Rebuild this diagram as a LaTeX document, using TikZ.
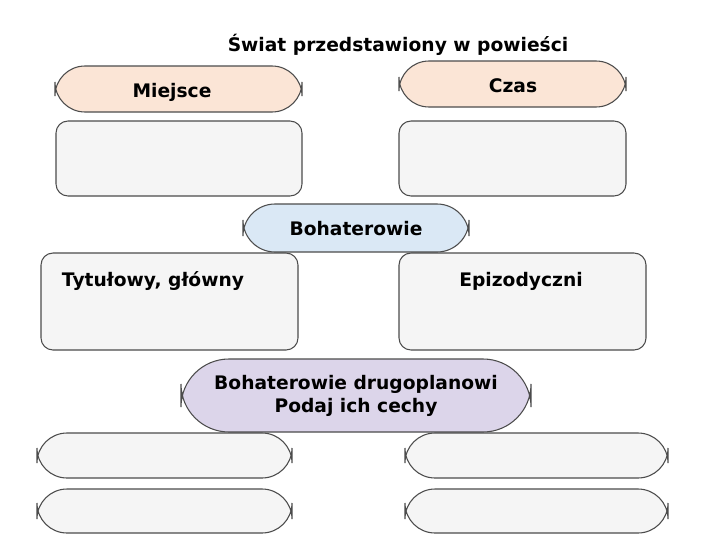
\documentclass[tikz,border=0pt]{standalone}
\usepackage{fontspec}
\setmainfont{DejaVu Sans}
\begin{document}
\begin{tikzpicture}[x=0.75pt,y=-0.75pt,
  pill/.style={draw=black!70,line width=0.8pt,rounded corners=22.5pt},
  box/.style={draw=black!70,line width=0.8pt,rounded corners=9pt,fill=black!4},
  lbl/.style={font=\bfseries\fontsize{14}{17}\selectfont,align=center}]
\useasboundingbox (0,0) rectangle (724,543);
\fill[white] (0,0) rectangle (724,543);
\node[lbl] (title) at (398,45) {Świat przedstawiony w powieści};
\draw[pill,fill={rgb,255:red,251;green,229;blue,214}] (55,66) rectangle (302,112);
\node[lbl] (miejsce) at (172,92) {Miejsce};
\draw[pill,fill={rgb,255:red,251;green,229;blue,214}] (399,61) rectangle (626,107);
\node[lbl] (czas) at (513,86) {Czas};
\draw[box] (56,121) rectangle (302,196);
\draw[box] (399,121) rectangle (626,196);
\draw[pill,rounded corners=24pt,fill={rgb,255:red,218;green,232;blue,245}] (243,204) rectangle (469,252);
\node[lbl] (boh) at (356,229) {Bohaterowie};
\draw[box] (41,253) rectangle (298,350);
\node[lbl] (tyt) at (153,281) {Tytułowy, główny};
\draw[box] (399,253) rectangle (646,350);
\node[lbl] (epi) at (521,281) {Epizodyczni};
\draw[pill,rounded corners=36pt,fill={rgb,255:red,220;green,213;blue,234}] (181,359) rectangle (531,432);
\node[lbl] (drug) at (356,396) {Bohaterowie drugoplanowi\\Podaj ich cechy};
\draw[pill,fill=black!4] (37,433) rectangle (292,478);
\draw[pill,fill=black!4] (37,489) rectangle (292,533);
\draw[pill,fill=black!4] (405,433) rectangle (668,478);
\draw[pill,fill=black!4] (405,489) rectangle (668,533);
\end{tikzpicture}
\end{document}
